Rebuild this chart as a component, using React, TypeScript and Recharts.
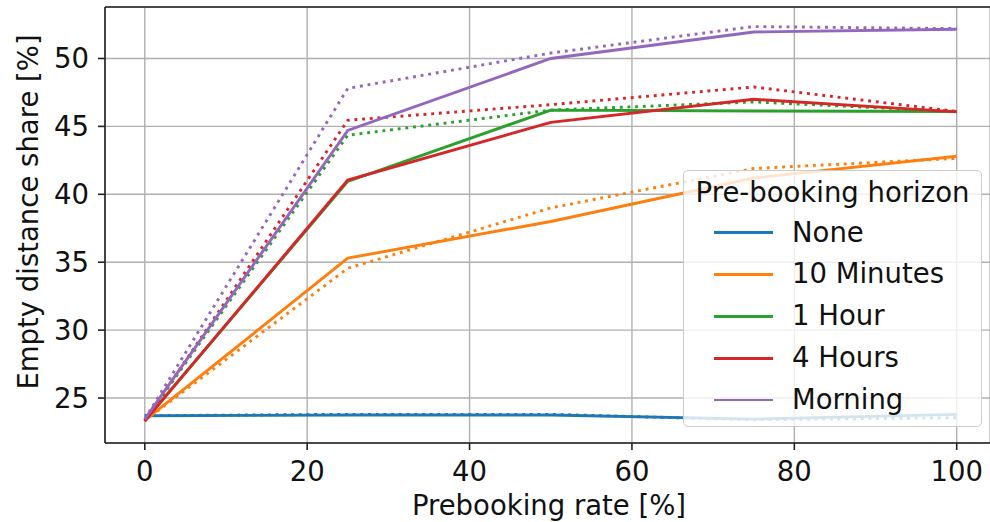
import React from 'react';
import { LineChart, Line, XAxis, YAxis, CartesianGrid, Legend, ReferenceLine } from 'recharts';

const rates = [0, 25, 50, 75, 100];
const seriesNames = ['None', '10 Minutes', '1 Hour', '4 Hours', 'Morning'];
const seriesColors = ['#1f77b4', '#ff7f0e', '#2ca02c', '#d62728', '#9467bd'];

const noneSolid = [23.7, 23.75, 23.75, 23.45, 23.8];
const noneDotted = [23.7, 23.8, 23.8, 23.4, 23.55];
const min10Solid = [23.35, 35.3, 38.0, 41.2, 42.8];
const min10Dotted = [23.35, 34.55, 39.0, 41.9, 42.65];
const hour1Solid = [23.35, 40.95, 46.2, 46.13, 46.1];
const hour1Dotted = [23.35, 44.35, 46.2, 46.8, 46.1];
const hour4Solid = [23.3, 41.05, 45.3, 47.0, 46.07];
const hour4Dotted = [23.3, 45.45, 46.6, 47.9, 46.1];
const morningSolid = [23.45, 44.7, 50.0, 51.95, 52.15];
const morningDotted = [23.45, 47.8, 50.4, 52.35, 52.2];

const xTicks = [0, 20, 40, 60, 80, 100];
const yTicks = [25, 30, 35, 40, 45, 50];
const xLabel = 'Prebooking rate [%]';
const yLabel = 'Empty distance share [%]';
const legendTitle = 'Pre-booking horizon';

const solidSeries = [noneSolid, min10Solid, hour1Solid, hour4Solid, morningSolid];
const dottedSeries = [noneDotted, min10Dotted, hour1Dotted, hour4Dotted, morningDotted];

const data = rates.map((r, i) => {
  const row: Record<string, number> = { rate: r };
  solidSeries.forEach((s, k) => { row['s' + k] = s[i]; });
  dottedSeries.forEach((s, k) => { row['d' + k] = s[i]; });
  return row;
});

const FONT = 'DejaVu Sans';
const FS = 27.5;
const TEXT = '#111';
const AXIS = '#222';

const renderLegend = () => (
  <div
    style={{
      boxSizing: 'border-box',
      width: 299,
      height: 257,
      border: '1px solid #cccccc',
      borderRadius: 5,
      background: 'rgba(255,255,255,0.8)',
      fontSize: FS,
      color: TEXT,
      fontFamily: FONT,
    }}
  >
    <div style={{ height: 42, lineHeight: '42px', textAlign: 'center', whiteSpace: 'nowrap' }}>{legendTitle}</div>
    <div style={{ marginTop: -1.5 }}>
      {seriesNames.map((n, i) => (
        <div key={n} style={{ height: 41.9, display: 'flex', alignItems: 'center' }}>
          <div style={{ marginLeft: 30, width: 59, height: 2.9, background: seriesColors[i] }} />
          <div style={{ marginLeft: 19, lineHeight: '41.9px', whiteSpace: 'nowrap' }}>{n}</div>
        </div>
      ))}
    </div>
  </div>
);

const YLabel = () => (
  <text
    x={38.3}
    y={212}
    transform="rotate(-90 38.3 212)"
    textAnchor="middle"
    fontSize={FS}
    fontFamily={FONT}
    fill={TEXT}
  >
    {yLabel}
  </text>
);

const XLabel = () => (
  <text x={549} y={515} textAnchor="middle" fontSize={FS} fontFamily={FONT} fill={TEXT}>
    {xLabel}
  </text>
);

export default function App() {
  const lines: React.ReactNode[] = [];
  seriesNames.forEach((n, k) => {
    lines.push(
      <Line
        key={'s' + k}
        type="linear"
        dataKey={'s' + k}
        name={n}
        stroke={seriesColors[k]}
        strokeWidth={2.9}
        dot={false}
        activeDot={false}
        isAnimationActive={false}
        legendType="none"
      />
    );
    lines.push(
      <Line
        key={'d' + k}
        type="linear"
        dataKey={'d' + k}
        name={n + ' (dotted)'}
        stroke={seriesColors[k]}
        strokeWidth={2.9}
        strokeDasharray="2.9 4.8"
        dot={false}
        activeDot={false}
        isAnimationActive={false}
        legendType="none"
      />
    );
  });

  return (
    <div style={{ position: 'absolute', left: 0, top: 0, width: 990, height: 522, background: '#fff', fontFamily: FONT }}>
      <LineChart width={990} height={522} data={data} margin={{ top: 7, right: 0, bottom: 0, left: 0 }}>
        <CartesianGrid stroke="#b0b0b0" strokeWidth={1.4} />
        <XAxis
          type="number"
          dataKey="rate"
          domain={[-4.9, 104.1]}
          ticks={xTicks}
          allowDataOverflow
          height={79}
          tickSize={7}
          tickMargin={11}
          axisLine={{ stroke: AXIS, strokeWidth: 1.6 }}
          tickLine={{ stroke: AXIS, strokeWidth: 1.6 }}
          tick={{ fontSize: FS, fill: TEXT, fontFamily: FONT }}
          label={{ content: XLabel }}
        />
        <YAxis
          type="number"
          domain={[21.69, 53.79]}
          ticks={yTicks}
          allowDataOverflow
          width={105}
          tickSize={7}
          tickMargin={9}
          axisLine={{ stroke: AXIS, strokeWidth: 1.6 }}
          tickLine={{ stroke: AXIS, strokeWidth: 1.6 }}
          tick={{ fontSize: FS, fill: TEXT, fontFamily: FONT }}
          label={{ content: YLabel }}
        />
        <ReferenceLine y={53.79} stroke={AXIS} strokeWidth={1.6} />
        {lines}
        <Legend
          layout="vertical"
          align="center"
          verticalAlign="middle"
          content={renderLegend}
          wrapperStyle={{ position: 'absolute', left: 683, top: 170, width: 299, height: 257, margin: 0, padding: 0 }}
        />
      </LineChart>
    </div>
  );
}
